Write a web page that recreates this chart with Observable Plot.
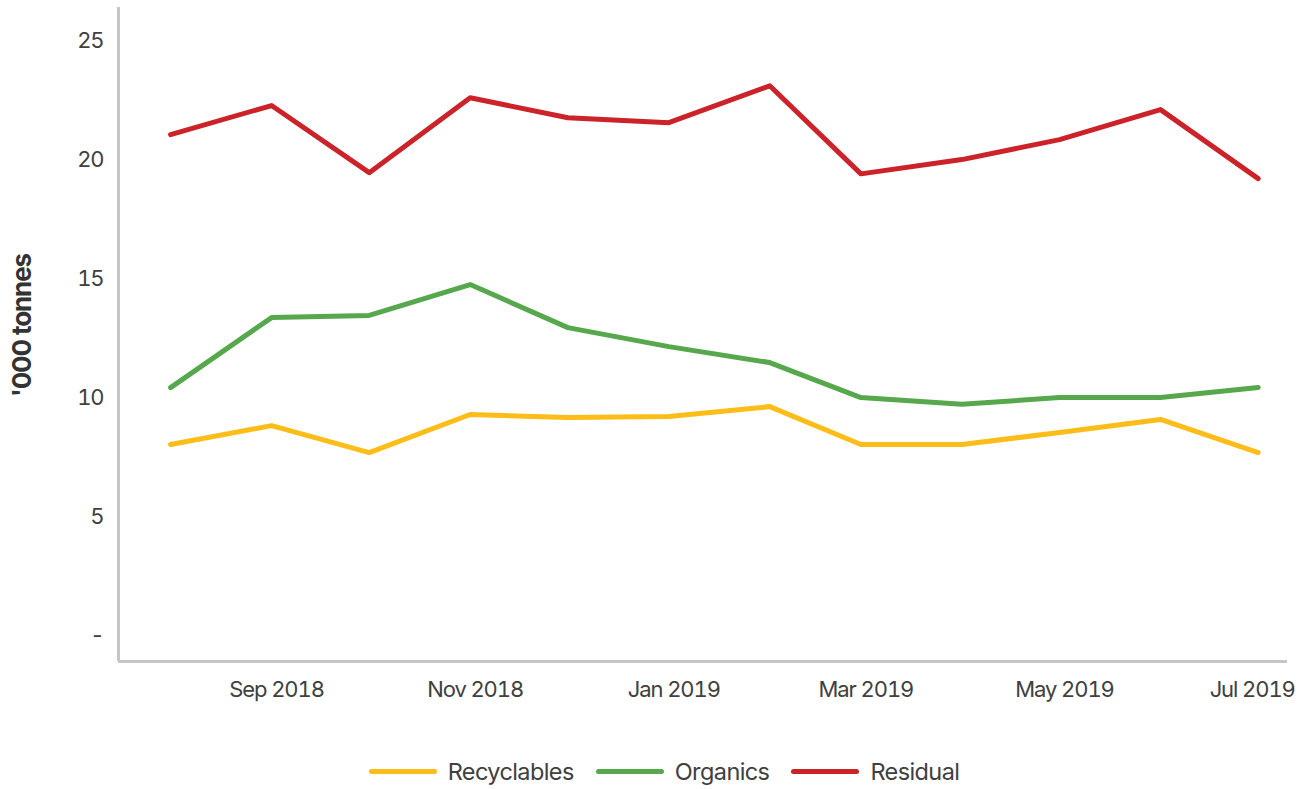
<!DOCTYPE html>
<html>
<head>
<meta charset="utf-8">
<script src="https://cdn.jsdelivr.net/npm/d3@7"></script>
<script src="https://cdn.jsdelivr.net/npm/@observablehq/plot@0.6"></script>
<style>
  html, body { margin: 0; padding: 0; background: #fff; }
  body { width: 1304px; height: 789px; overflow: hidden; font-family: Inter, "Open Sans", sans-serif; }
  #chart svg { display: block; }
  #legend { display: flex; justify-content: center; align-items: center; margin-top: 23px; height: 40px; font-size: 23.5px; color: #404040; letter-spacing: -0.6px; padding-left: 24px; }
  .item { display: flex; align-items: center; margin: 0 11px; }
  .sw { width: 68px; height: 5px; border-radius: 3px; margin-right: 11px; }
</style>
</head>
<body>
<div id="chart"></div>
<div id="legend"></div>
<script>
const months = ["2018-08-01","2018-09-01","2018-10-01","2018-11-01","2018-12-01","2019-01-01","2019-02-01","2019-03-01","2019-04-01","2019-05-01","2019-06-01","2019-07-01"];
const series = ["Recyclables", "Organics", "Residual"];
const colors = ["#FDBD18", "#57A84D", "#CC2229"];
const recyclables = [8.03, 8.82, 7.69, 9.29, 9.16, 9.2, 9.62, 8.03, 8.03, 8.53, 9.08, 7.69];
const organics = [10.42, 13.36, 13.45, 14.75, 12.94, 12.14, 11.47, 10.0, 9.72, 10.0, 10.0, 10.42];
const residual = [21.05, 22.27, 19.45, 22.6, 21.76, 21.55, 23.1, 19.4, 20.0, 20.84, 22.1, 19.2];
const yTicks = [0, 5, 10, 15, 20, 25];
const xTicks = ["2018-09-01","2018-11-01","2019-01-01","2019-03-01","2019-05-01","2019-07-01"];

const values = [recyclables, organics, residual];
const data = [];
series.forEach((s, i) => months.forEach((m, j) => data.push({series: s, date: new Date(m + "T00:00:00Z"), value: values[i][j]})));
const tickDates = xTicks.map(d => new Date(d + "T00:00:00Z"));

const H = 728;
const chart = Plot.plot({
  width: 1304,
  height: H,
  marginLeft: 118,
  marginRight: 17,
  marginTop: 7,
  marginBottom: H - 661,
  style: {fontFamily: "Inter, 'Open Sans', sans-serif", fontSize: "22px", color: "#404040", background: "#fff"},
  x: {type: "utc", domain: [new Date("2018-07-16T00:00:00Z"), new Date("2019-07-10T00:00:00Z")]},
  y: {domain: [-1.09, 26.39]},
  color: {domain: series, range: colors},
  marks: [
    Plot.ruleX([new Date("2018-07-16T00:00:00Z")], {stroke: "#c6c6c6", strokeWidth: 3, y1: -1.09, y2: 26.39}),
    Plot.ruleY([-1.09], {stroke: "#c6c6c6", strokeWidth: 3}),
    Plot.axisY(yTicks, {tickSize: 0, tickPadding: 15, tickFormat: d => d === 0 ? "-" : String(d), fontSize: 22, fill: "#404040", label: null}),
    Plot.axisX(tickDates.slice(0, -1), {tickSize: 0, tickPadding: 20, dx: 5, tickFormat: d3.utcFormat("%b %Y"), fontSize: 22, fill: "#404040", label: null}),
    Plot.axisX(tickDates.slice(-1), {tickSize: 0, tickPadding: 20, dx: -6, tickFormat: d3.utcFormat("%b %Y"), fontSize: 22, fill: "#404040", label: null}),
    Plot.text(["'000 tonnes"], {frameAnchor: "left", textAnchor: "middle", dx: -96, dy: -9, rotate: -90, fontSize: 26, fontWeight: "bold", fill: "#333"}),
    Plot.line(data, {x: "date", y: "value", z: "series", stroke: "series", strokeWidth: 5, strokeLinejoin: "round", strokeLinecap: "round"})
  ]
});
chart.querySelectorAll("text").forEach(t => t.setAttribute("letter-spacing", "-1.1"));
document.getElementById("chart").appendChild(chart);

const legend = document.getElementById("legend");
series.forEach((s, i) => {
  const it = document.createElement("div");
  it.className = "item";
  const sw = document.createElement("div");
  sw.className = "sw";
  sw.style.background = colors[i];
  const lb = document.createElement("span");
  lb.textContent = s;
  it.appendChild(sw); it.appendChild(lb);
  legend.appendChild(it);
});
</script>
</body>
</html>
